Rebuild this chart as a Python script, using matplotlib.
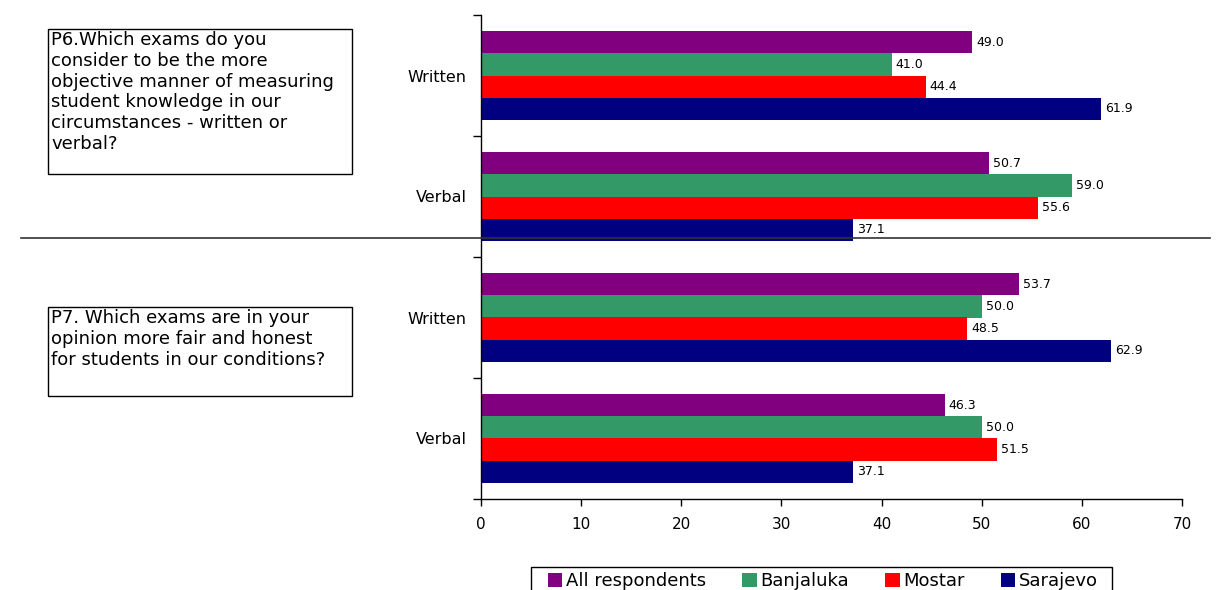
import matplotlib
matplotlib.use("Agg")
import matplotlib.pyplot as plt
from matplotlib.patches import Rectangle, Patch
from matplotlib.lines import Line2D

plt.rcParams['font.family'] = ['DejaVu Sans']

# Survey answers (percent), groups listed top to bottom
groups = ["Written", "Verbal", "Written", "Verbal"]
series = ["All respondents", "Banjaluka", "Mostar", "Sarajevo"]
all_respondents = [49.0, 50.7, 53.7, 46.3]
banjaluka = [41.0, 59.0, 50.0, 50.0]
mostar = [44.4, 55.6, 48.5, 51.5]
sarajevo = [61.9, 37.1, 62.9, 37.1]
values = [all_respondents, banjaluka, mostar, sarajevo]
colors = ["#800080", "#339966", "#FF0000", "#000080"]
x_ticks = [0, 10, 20, 30, 40, 50, 60, 70]

q6 = ("P6.Which exams do you\nconsider to be the more\nobjective manner of measuring\n"
      "student knowledge in our\ncircumstances - written or\nverbal?")
q7 = "P7. Which exams are in your\nopinion more fair and honest\nfor students in our conditions?"

W, H = 1216, 590
fig = plt.figure(figsize=(W / 100, H / 100), dpi=100)
ax = fig.add_axes([481 / W, 1 - 499 / H, (1182 - 481) / W, (499 - 15) / H])

bar_h = 0.1825
pad = (1 - 4 * bar_h) / 2
for j, (name, vals, c) in enumerate(zip(series, values, colors)):
    ys = [i + pad + bar_h * (j + 0.5) for i in range(len(groups))]
    ax.barh(ys, vals, height=bar_h, color=c, label=name, linewidth=0)
    for y, v in zip(ys, vals):
        ax.text(v + 0.42, y, f"{v:.1f}", va="center", ha="left", fontsize=9)

ax.set_xlim(0, 70)
ax.set_ylim(len(groups), 0)
ax.set_xticks(x_ticks)
ax.set_xticklabels([str(t) for t in x_ticks], fontsize=11)
ax.tick_params(axis="x", direction="out", length=5, width=1, pad=8)

ax.set_yticks(range(len(groups) + 1))
ax.set_yticklabels([])
ax.set_yticks([i + 0.5 for i in range(len(groups))], minor=True)
ax.set_yticklabels(groups, minor=True, fontsize=11.5)
ax.tick_params(axis="y", which="major", direction="out", length=6, width=1)
ax.tick_params(axis="y", which="minor", length=0, pad=10.5)

for s in ["top", "right"]:
    ax.spines[s].set_visible(False)
for s in ["left", "bottom"]:
    ax.spines[s].set_linewidth(1)
    ax.spines[s].set_color("black")

# Divider between the two questions
fig.add_artist(Line2D([21 / W, 1210 / W], [1 - 238 / H] * 2, color="#333333", lw=1.2))

# Question boxes
def qbox(x0, y0, x1, y1, text):
    fig.add_artist(Rectangle((x0 / W, 1 - y1 / H), (x1 - x0) / W, (y1 - y0) / H,
                             fill=False, edgecolor="black", lw=1, transform=fig.transFigure))
    fig.text((x0 + 3) / W, 1 - (y0 + 2) / H, text, ha="left", va="top",
             fontsize=13, linespacing=1.2)

qbox(48, 29, 352, 174, q6)
qbox(48, 307, 352, 396, q7)

# Legend: frameless entries inside a wide box running off the bottom edge
fig.add_artist(Rectangle((531 / W, 1 - 600 / H), (1112 - 531) / W, (600 - 567) / H,
                         fill=False, edgecolor="black", lw=1, transform=fig.transFigure))
handles = [Patch(facecolor=c, edgecolor="none") for c in colors]
fig.legend(handles, series, loc="upper left", bbox_to_anchor=(548 / W, 1 - 572 / H),
           ncol=4, fontsize=13, frameon=False,
           handlelength=0.8, handleheight=0.8, handletextpad=0.2,
           columnspacing=2.0, borderpad=0, borderaxespad=0)

fig.savefig("out.png", dpi=100)
